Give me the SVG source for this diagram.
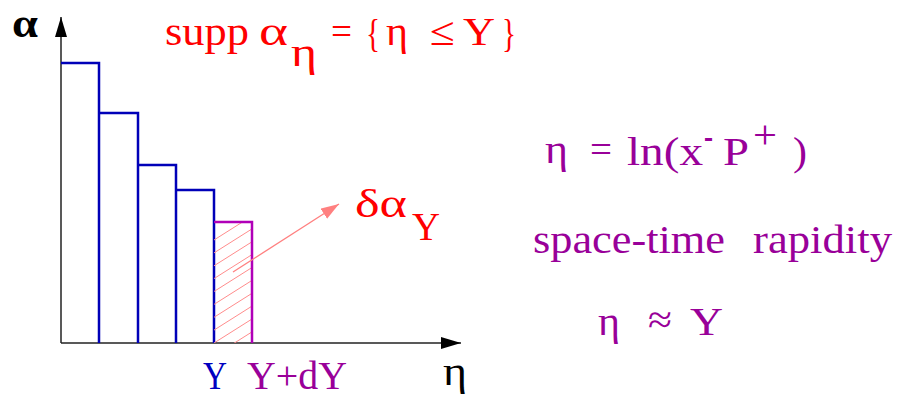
<svg xmlns="http://www.w3.org/2000/svg" width="899" height="398" viewBox="0 0 899 398">
<style>
text{font-family:"Liberation Serif","Times New Roman",serif;font-size:40px}
.red{fill:#ff0000}
.pur{fill:#990099}
.blu{fill:#0000c0}
.blk{fill:#000}
.bar{fill:none;stroke:#0000b8;stroke-width:2.5}
.barp{fill:none;stroke:#b000b8;stroke-width:2.5}
.axis{stroke:#222;stroke-width:1.5;fill:none}
.hatch{stroke:#ff8c8c;stroke-width:1}
</style>
<defs>
<marker id="ah" markerUnits="userSpaceOnUse" markerWidth="22" markerHeight="14" refX="20" refY="6" orient="auto">
<path d="M0,0 L20,6 L0,12 z" fill="#000"/>
</marker>
<marker id="ahs" markerUnits="userSpaceOnUse" markerWidth="20" markerHeight="14" refX="18" refY="6" orient="auto">
<path d="M0,0 L18,6 L0,12 z" fill="#ff8080"/>
</marker>
<clipPath id="hc"><rect x="214" y="222" width="38" height="121"/></clipPath>
</defs>
<g id="axes">
<line class="axis" x1="61" y1="343" x2="61" y2="17" marker-end="url(#ah)"/>
<line class="axis" x1="61" y1="343" x2="461" y2="343" marker-end="url(#ah)"/>
</g>
<g id="bars">
<path class="bar" d="M61,63 H99 V343 M99,113 H138 V343 M138,165 H176 V343 M176,190 H214 V343"/>
<g clip-path="url(#hc)">
<path class="hatch" d="M214,240 l38,-24 M214,252.9 l38,-24 M214,265.8 l38,-24 M214,278.6 l38,-24 M214,291.5 l38,-24 M214,304.4 l38,-24 M214,317.3 l38,-24 M214,330.1 l38,-24 M214,343 l38,-24 M214,355.9 l38,-24"/>
</g>
<path class="barp" d="M214,222 H252 V343"/>
</g>
<g id="connectors">
<line x1="233" y1="272" x2="339" y2="204" stroke="#ff8080" stroke-width="1.3" marker-end="url(#ahs)"/>
</g>
<g id="label-alpha">
<text class="blk" x="12" y="37" font-size="42" font-weight="bold" textLength="26" lengthAdjust="spacingAndGlyphs">α</text>
</g>
<g id="label-supp">
<text class="red" x="165" y="45" textLength="84" lengthAdjust="spacingAndGlyphs">supp</text>
<text class="red" x="259" y="45" textLength="29" lengthAdjust="spacingAndGlyphs">α</text>
<text class="red" x="291" y="66" font-size="36" textLength="26" lengthAdjust="spacingAndGlyphs">η</text>
<text class="red" x="331" y="45" textLength="21" lengthAdjust="spacingAndGlyphs">=</text>
<text class="red" x="366" y="47" font-size="46" textLength="14" lengthAdjust="spacingAndGlyphs">{</text>
<text class="red" x="386" y="45" textLength="22" lengthAdjust="spacingAndGlyphs">η</text>
<text class="red" x="430" y="45" textLength="25" lengthAdjust="spacingAndGlyphs">≤</text>
<text class="red" x="463" y="45" textLength="32" lengthAdjust="spacingAndGlyphs">Y</text>
<text class="red" x="502" y="47" font-size="46" textLength="14" lengthAdjust="spacingAndGlyphs">}</text>
</g>
<g id="label-dalpha">
<text class="red" x="355" y="217" textLength="52" lengthAdjust="spacingAndGlyphs">δα</text>
<text class="red" x="412" y="240" textLength="28" lengthAdjust="spacingAndGlyphs">Y</text>
</g>
<g id="label-axis-x">
<text class="blu" x="203" y="389" font-size="38" textLength="24" lengthAdjust="spacingAndGlyphs">Y</text>
<text class="pur" x="247" y="389" font-size="38" textLength="100" lengthAdjust="spacingAndGlyphs">Y+dY</text>
<text class="blk" x="443" y="385" textLength="24" lengthAdjust="spacingAndGlyphs">η</text>
</g>
<g id="label-eta-def">
<text class="pur" x="545" y="163" textLength="23" lengthAdjust="spacingAndGlyphs">η</text>
<text class="pur" x="590" y="163" textLength="22" lengthAdjust="spacingAndGlyphs">=</text>
<text class="pur" x="627" y="165" textLength="76" lengthAdjust="spacingAndGlyphs">ln(x</text>
<text class="pur" x="704" y="149" font-size="32" textLength="9" lengthAdjust="spacingAndGlyphs">-</text>
<text class="pur" x="723" y="165" textLength="26" lengthAdjust="spacingAndGlyphs">P</text>
<text class="pur" x="753" y="148" font-size="32" textLength="24" lengthAdjust="spacingAndGlyphs">+</text>
<text class="pur" x="793" y="165" textLength="14" lengthAdjust="spacingAndGlyphs">)</text>
</g>
<g id="label-rapidity">
<text class="pur" x="533" y="253" textLength="192" lengthAdjust="spacingAndGlyphs">space-time</text>
<text class="pur" x="753" y="253" textLength="139" lengthAdjust="spacingAndGlyphs">rapidity</text>
</g>
<g id="label-approx">
<text class="pur" x="598" y="335" textLength="22" lengthAdjust="spacingAndGlyphs">η</text>
<text class="pur" x="648" y="333" textLength="24" lengthAdjust="spacingAndGlyphs">≈</text>
<text class="pur" x="690" y="335" textLength="33" lengthAdjust="spacingAndGlyphs">Y</text>
</g>
</svg>
